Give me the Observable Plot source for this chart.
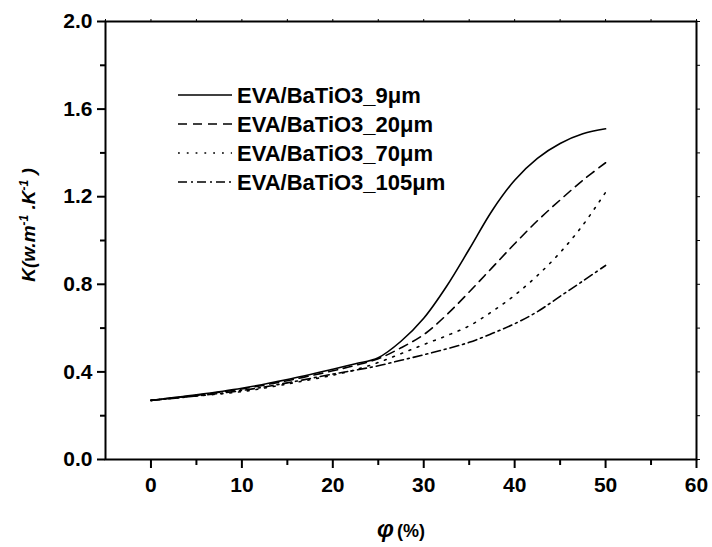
<!DOCTYPE html>
<html>
<head>
<meta charset="utf-8">
<script src="https://cdn.jsdelivr.net/npm/d3@7"></script>
<script src="https://cdn.jsdelivr.net/npm/@observablehq/plot@0.6"></script>
<style>
  html, body { margin: 0; padding: 0; background: #fff; }
  svg { display: block; }
</style>
</head>
<body>
<div id="chart"></div>
<script>
// ---- data ----
const phi = [0, 5, 10, 15, 20, 22.5, 25, 27.5, 30, 32.5, 35, 37.5, 40, 42.5, 45, 47.5, 50];
const k9   = [0.27, 0.295, 0.325, 0.365, 0.412, 0.437, 0.465, 0.54, 0.645, 0.79, 0.96, 1.135, 1.275, 1.375, 1.443, 1.487, 1.51];
const k20  = [0.27, 0.293, 0.322, 0.36, 0.405, 0.43, 0.46, 0.51, 0.57, 0.66, 0.765, 0.875, 0.985, 1.09, 1.185, 1.275, 1.355];
const k70  = [0.27, 0.29, 0.31, 0.345, 0.385, 0.41, 0.443, 0.483, 0.525, 0.565, 0.61, 0.675, 0.75, 0.84, 0.945, 1.07, 1.22];
const k105 = [0.27, 0.29, 0.315, 0.35, 0.39, 0.408, 0.428, 0.453, 0.478, 0.505, 0.535, 0.575, 0.62, 0.675, 0.745, 0.815, 0.886];
const seriesNames = ["EVA/BaTiO3_9μm", "EVA/BaTiO3_20μm", "EVA/BaTiO3_70μm", "EVA/BaTiO3_105μm"];
const seriesValues = [k9, k20, k70, k105];
const xTicks = [0, 10, 20, 30, 40, 50, 60];
const xMinorTicks = [-5, 5, 15, 25, 35, 45, 55];
const yTicks = [0.0, 0.4, 0.8, 1.2, 1.6, 2.0];
const yMinorTicks = [0.2, 0.6, 1.0, 1.4, 1.8];
const dashes = [null, "9,6", "1.8,7", "9,4,2,4"];

const font = "'Liberation Sans', Arial, sans-serif";

const lineMarks = seriesValues.map((vals, i) =>
  Plot.line(phi.map((p, j) => ({phi: p, k: vals[j]})), {
    x: "phi", y: "k", stroke: "#000", strokeWidth: 1.6,
    strokeDasharray: dashes[i] ?? undefined,
    curve: "catmull-rom"
  })
);

const chart = Plot.plot({
  width: 712,
  height: 547,
  marginLeft: 105,
  marginRight: 16,
  marginTop: 21,
  marginBottom: 88,
  x: {domain: [-5, 60]},
  y: {domain: [0, 2]},
  style: {fontFamily: font, fontSize: "21px", fontWeight: "bold", color: "#000", background: "#fff", overflow: "visible"},
  marks: [
    Plot.axisX({ticks: xTicks, tickSize: 9, tickPadding: 9, strokeWidth: 2, label: null, fontSize: 21, fontWeight: "bold"}),
    Plot.axisX({ticks: xMinorTicks.filter(d => d > -5), tickSize: 6, strokeWidth: 2, tickFormat: () => "", label: null}),
    Plot.axisX({anchor: "top", ticks: xTicks.concat(xMinorTicks), tickSize: 3, strokeWidth: 1, tickFormat: () => "", label: null}),
    Plot.axisY({ticks: yTicks, tickSize: 8, tickPadding: 5, strokeWidth: 2, tickFormat: d3.format(".1f"), label: null, fontSize: 21, fontWeight: "bold"}),
    Plot.axisY({ticks: yMinorTicks, tickSize: 5, strokeWidth: 2, tickFormat: () => "", label: null}),
    Plot.axisY({anchor: "right", ticks: yTicks.concat(yMinorTicks), tickSize: 3, strokeWidth: 1, tickFormat: () => "", label: null}),
    Plot.frame({stroke: "#000", strokeWidth: 2}),
    ...lineMarks
  ]
});

document.getElementById("chart").appendChild(chart);

// ---- axis titles and legend ----
const svg = d3.select(chart);

// x title: φ (%)
const xt = svg.append("text")
  .attr("x", 401).attr("y", 537)
  .attr("text-anchor", "middle")
  .attr("font-family", font)
  .attr("font-weight", "bold")
  .attr("fill", "#000");
xt.append("tspan").attr("font-size", 24).attr("font-style", "italic").text("φ");
xt.append("tspan").attr("font-size", 18).attr("dx", 3).text("(%)");

// y title: K(w.m-1.K-1)
const yt = svg.append("text")
  .attr("transform", "translate(35,225) rotate(-90)")
  .attr("text-anchor", "middle")
  .attr("font-family", font)
  .attr("font-weight", "bold")
  .attr("font-style", "italic")
  .attr("font-size", 19)
  .attr("fill", "#000");
yt.append("tspan").text("K(w.m");
yt.append("tspan").attr("font-size", 12).attr("baseline-shift", "55%").text("-1");
yt.append("tspan").text(" .K");
yt.append("tspan").attr("font-size", 12).attr("baseline-shift", "55%").text("-1");
yt.append("tspan").text(" )");

// legend
const lg = svg.append("g").attr("transform", "translate(178,95)");
seriesNames.forEach((name, i) => {
  const g = lg.append("g").attr("transform", `translate(0,${i * 29})`);
  g.append("line")
    .attr("x1", 0).attr("x2", 54).attr("y1", 0).attr("y2", 0)
    .attr("stroke", "#000").attr("stroke-width", 1.6)
    .attr("stroke-dasharray", dashes[i]);
  g.append("text")
    .attr("x", 59).attr("y", 0).attr("dy", "0.36em")
    .attr("text-anchor", "start")
    .attr("font-family", font).attr("font-weight", "bold").attr("font-size", 22)
    .attr("fill", "#000")
    .text(name);
});
</script>
</body>
</html>
